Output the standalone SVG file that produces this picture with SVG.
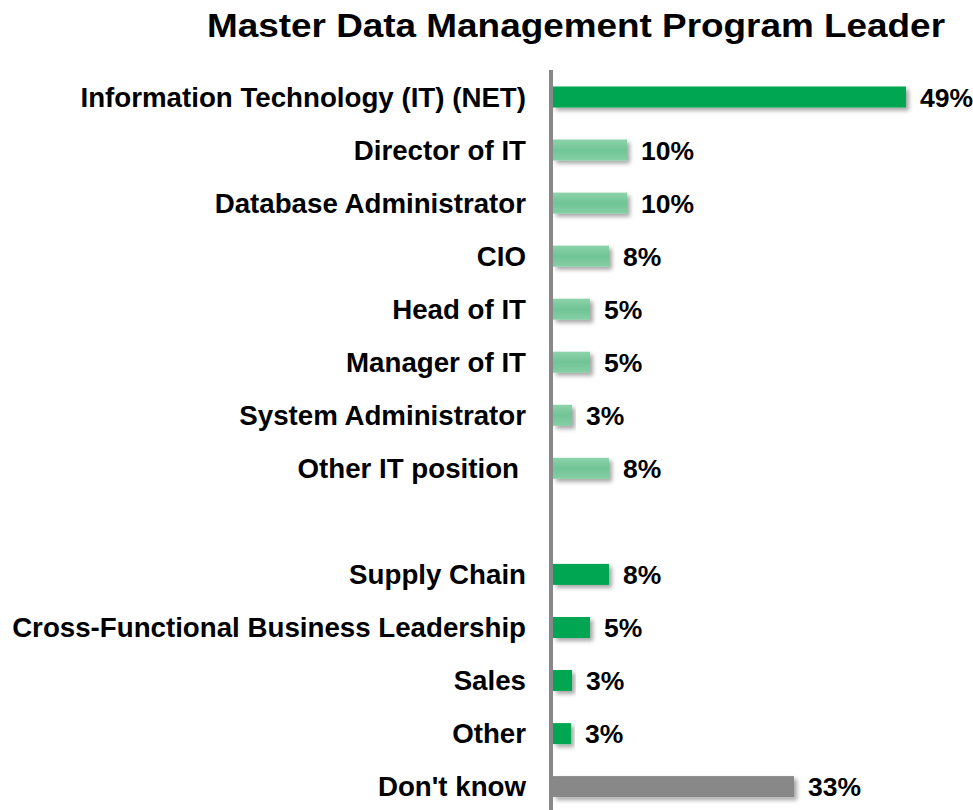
<svg xmlns="http://www.w3.org/2000/svg" width="973" height="810" viewBox="0 0 973 810">
<style>
.lbl{font-family:"Liberation Sans",Arial,sans-serif;font-weight:bold;font-size:27.7px;fill:#000;text-anchor:end}
.val{font-family:"Liberation Sans",Arial,sans-serif;font-weight:bold;font-size:26.5px;fill:#000}
.title{font-family:"Liberation Sans",Arial,sans-serif;font-weight:bold;font-size:33px;fill:#000}
.dark{fill:#00a651;filter:url(#sh)}
.light{fill:url(#lg);filter:url(#sh)}
.gray{fill:#888888;filter:url(#sh)}
</style>
<defs>
<filter id="sh" x="-10%" y="-50%" width="130%" height="220%">
<feDropShadow dx="3" dy="3" stdDeviation="2" flood-color="#000" flood-opacity="0.35"/>
</filter>
<linearGradient id="lg" x1="0" y1="0" x2="0" y2="1">
<stop offset="0" stop-color="#8dd3ab"/>
<stop offset="0.5" stop-color="#70c496"/>
<stop offset="1" stop-color="#85cfa5"/>
</linearGradient>
</defs>
<rect width="973" height="810" fill="#fff"/>
<text class="title" x="207" y="36.7" textLength="738" lengthAdjust="spacingAndGlyphs">Master Data Management Program Leader</text>
<g id="r0"><rect class="dark" x="553" y="86.5" width="353" height="21"/><text class="lbl" x="526" y="106.7">Information Technology (IT) (NET)</text><text class="val" x="920" y="106.7">49%</text></g>
<g id="r1"><rect class="light" x="553" y="139.5" width="74" height="21"/><text class="lbl" x="526" y="159.7">Director of IT</text><text class="val" x="641" y="159.7">10%</text></g>
<g id="r2"><rect class="light" x="553" y="192.6" width="74" height="21"/><text class="lbl" x="526" y="212.8">Database Administrator</text><text class="val" x="641" y="212.8">10%</text></g>
<g id="r3"><rect class="light" x="553" y="245.6" width="56" height="21"/><text class="lbl" x="526" y="265.8">CIO</text><text class="val" x="623" y="265.8">8%</text></g>
<g id="r4"><rect class="light" x="553" y="298.7" width="37" height="21"/><text class="lbl" x="526" y="318.9">Head of IT</text><text class="val" x="604" y="318.9">5%</text></g>
<g id="r5"><rect class="light" x="553" y="351.7" width="37" height="21"/><text class="lbl" x="526" y="371.9">Manager of IT</text><text class="val" x="604" y="371.9">5%</text></g>
<g id="r6"><rect class="light" x="553" y="404.8" width="19" height="21"/><text class="lbl" x="526" y="425">System Administrator</text><text class="val" x="586" y="425">3%</text></g>
<g id="r7"><rect class="light" x="553" y="457.8" width="56" height="21"/><text class="lbl" x="519" y="478">Other IT position</text><text class="val" x="623" y="478">8%</text></g>
<g id="r9"><rect class="dark" x="553" y="563.9" width="56" height="21"/><text class="lbl" x="526" y="584.1">Supply Chain</text><text class="val" x="623" y="584.1">8%</text></g>
<g id="r10"><rect class="dark" x="553" y="617" width="37" height="21"/><text class="lbl" x="526" y="637.2">Cross-Functional Business Leadership</text><text class="val" x="604" y="637.2">5%</text></g>
<g id="r11"><rect class="dark" x="553" y="670" width="19" height="21"/><text class="lbl" x="526" y="690.2">Sales</text><text class="val" x="586" y="690.2">3%</text></g>
<g id="r12"><rect class="dark" x="553" y="723.1" width="18" height="21"/><text class="lbl" x="526" y="743.3">Other</text><text class="val" x="585" y="743.3">3%</text></g>
<g id="r13"><rect class="gray" x="553" y="776.1" width="241" height="21"/><text class="lbl" x="526" y="796.3">Don't know</text><text class="val" x="808" y="796.3">33%</text></g>
<g id="connectors"><line x1="551" y1="70" x2="551" y2="810" stroke="#888888" stroke-width="4"/></g>
</svg>
